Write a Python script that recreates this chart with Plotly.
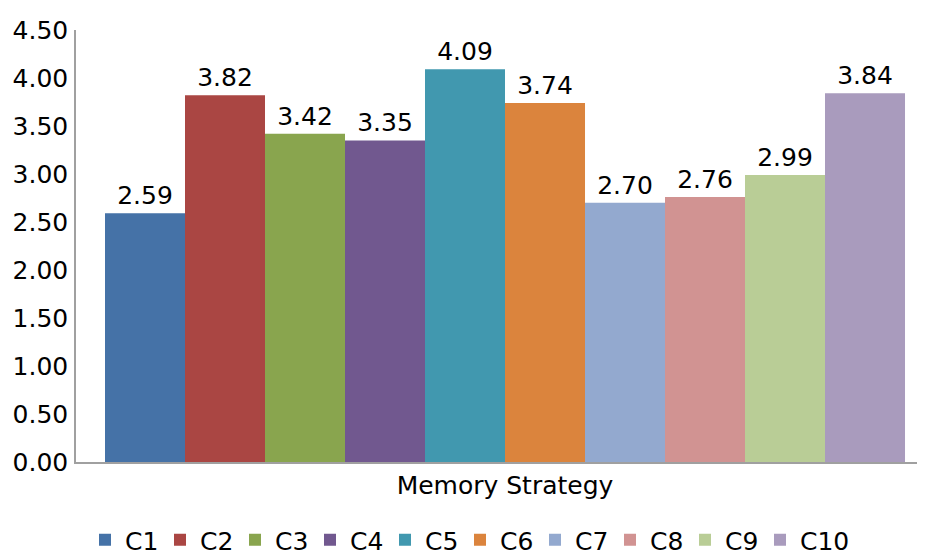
import plotly.graph_objects as go

category = ["Memory Strategy"]
series_names = ["C1", "C2", "C3", "C4", "C5", "C6", "C7", "C8", "C9", "C10"]
values = [2.59, 3.82, 3.42, 3.35, 4.09, 3.74, 2.70, 2.76, 2.99, 3.84]
colors = ["#4572A7", "#AA4643", "#89A54E", "#71588F", "#4198AF",
          "#DB843D", "#93A9CF", "#D19392", "#B9CD96", "#A99BBD"]
y_ticks = [0, 0.5, 1.0, 1.5, 2.0, 2.5, 3.0, 3.5, 4.0, 4.5]

FONT = "DejaVu Sans"
FS = 25
# page body has an 8px margin, so the figure is drawn 8px in from the window edge
W, H = 917, 546
PLOT_L, PLOT_W = 68, 849
PLOT_T, PLOT_B = 22, 92
PLOT_H = H - PLOT_T - PLOT_B

fig = go.Figure()
legends = {}
for i, (name, v, c) in enumerate(zip(series_names, values, colors)):
    key = "legend" if i == 0 else f"legend{i + 1}"
    fig.add_trace(go.Bar(
        x=category, y=[v], name=name, legend=key,
        marker=dict(color=c, line=dict(width=0)),
        text=[f"{v:.2f}"], textposition="outside",
        textfont=dict(family=FONT, size=FS, color="black"),
        cliponaxis=False,
    ))
    legends[key] = dict(
        orientation="h", x=(77 + 75 * i - PLOT_L) / PLOT_W, xanchor="left",
        y=-78 / PLOT_H, yanchor="middle", bgcolor="rgba(0,0,0,0)",
        font=dict(family=FONT, size=FS, color="black"),
    )

fig.update_layout(
    width=W, height=H,
    margin=dict(l=PLOT_L, r=W - PLOT_L - PLOT_W, t=PLOT_T, b=PLOT_B, autoexpand=False),
    paper_bgcolor="white", plot_bgcolor="white",
    barmode="group", bargap=0.0676, bargroupgap=0,
    font=dict(family=FONT, size=FS, color="black"),
    showlegend=True,
    xaxis=dict(range=[-0.5, 0.4895], showline=True, linecolor="#A0A0A0", linewidth=1.5,
               showgrid=False, ticks="", automargin=False,
               tickfont=dict(family=FONT, size=FS)),
    yaxis=dict(range=[0, 4.5], tickvals=y_ticks, ticktext=[f"{t:.2f}" for t in y_ticks],
               showline=True, linecolor="#A0A0A0", linewidth=1.5, showgrid=False,
               zeroline=False, ticks="", ticklabelstandoff=1, automargin=False,
               tickfont=dict(family=FONT, size=FS)),
    **legends,
)

fig.write_html("out.html")
